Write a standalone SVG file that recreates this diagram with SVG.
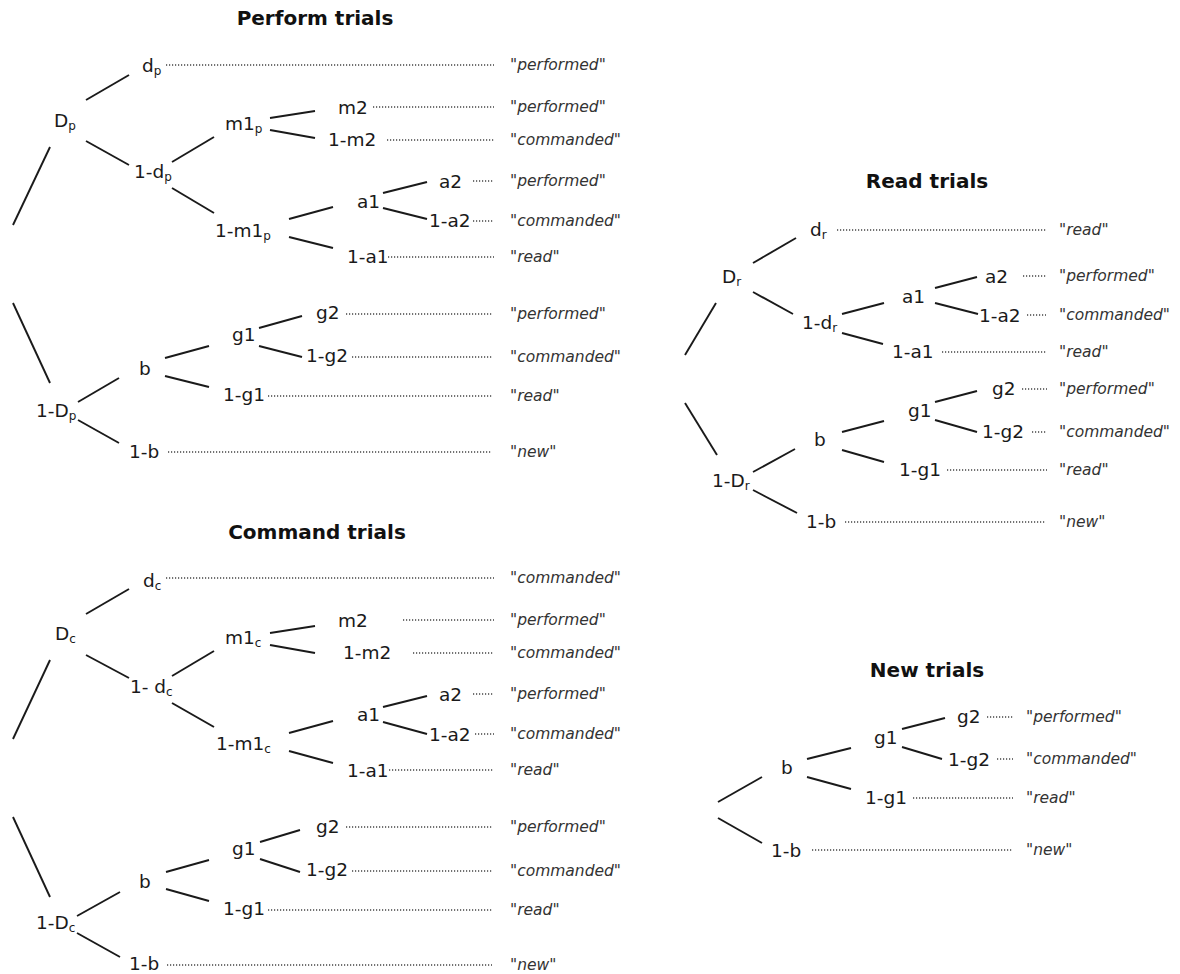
<svg xmlns="http://www.w3.org/2000/svg" width="1180" height="974" viewBox="0 0 1180 974">
<style>
.t{font-family:"DejaVu Sans","Liberation Sans",sans-serif;font-size:20px;font-weight:bold;fill:#111;text-anchor:middle}
.n{font-family:"DejaVu Sans","Liberation Sans",sans-serif;font-size:18.5px;fill:#1a1a1a}
.s{font-size:12px}
.l{font-family:"DejaVu Sans","Liberation Sans",sans-serif;font-size:15.5px;font-style:italic;fill:#333}
.e{stroke:#1a1a1a;stroke-width:1.9;fill:none;stroke-linecap:butt}
.d{stroke:#444;stroke-width:1.4;stroke-dasharray:1.2 1.8;fill:none}
</style>
<rect width="1180" height="974" fill="#fff"/>

<!-- ============ Perform trials ============ -->
<g id="perform">
<text class="t" x="315" y="25">Perform trials</text>
<g id="connectors-perform">
<line class="e" x1="13" y1="225" x2="50" y2="147"/>
<line class="e" x1="86" y1="100" x2="129" y2="75"/>
<line class="e" x1="86" y1="141" x2="129" y2="165"/>
<line class="e" x1="172" y1="162" x2="214" y2="137"/>
<line class="e" x1="172" y1="188" x2="214" y2="213"/>
<line class="e" x1="270" y1="118" x2="315" y2="111"/>
<line class="e" x1="270" y1="130" x2="315" y2="138"/>
<line class="e" x1="289" y1="219" x2="333" y2="207"/>
<line class="e" x1="289" y1="237" x2="333" y2="248"/>
<line class="e" x1="383" y1="193" x2="427" y2="182"/>
<line class="e" x1="383" y1="208" x2="427" y2="219"/>
<line class="e" x1="13" y1="303" x2="50" y2="383"/>
<line class="e" x1="78" y1="402" x2="119" y2="378"/>
<line class="e" x1="78" y1="420" x2="119" y2="443"/>
<line class="e" x1="165" y1="358" x2="209" y2="346"/>
<line class="e" x1="165" y1="376" x2="209" y2="387"/>
<line class="e" x1="259" y1="328" x2="302" y2="316"/>
<line class="e" x1="259" y1="346" x2="302" y2="357"/>
<line class="d" x1="166" y1="65" x2="494" y2="65"/>
<line class="d" x1="373" y1="107" x2="494" y2="107"/>
<line class="d" x1="387" y1="140" x2="494" y2="140"/>
<line class="d" x1="473" y1="181" x2="494" y2="181"/>
<line class="d" x1="473" y1="221" x2="494" y2="221"/>
<line class="d" x1="388" y1="257" x2="494" y2="257"/>
<line class="d" x1="346" y1="314" x2="492" y2="314"/>
<line class="d" x1="352" y1="357" x2="492" y2="357"/>
<line class="d" x1="268" y1="396" x2="492" y2="396"/>
<line class="d" x1="168" y1="452" x2="492" y2="452"/>
</g>
<g id="p-Dp"><text class="n" x="54" y="127">D<tspan class="s" dy="3">p</tspan></text></g>
<g id="p-dp"><text class="n" x="142" y="72">d<tspan class="s" dy="3">p</tspan></text></g>
<g id="p-1dp"><text class="n" x="134" y="178">1-d<tspan class="s" dy="3">p</tspan></text></g>
<g id="p-m1p"><text class="n" x="225" y="130">m1<tspan class="s" dy="3">p</tspan></text></g>
<g id="p-m2"><text class="n" x="338" y="114">m2</text></g>
<g id="p-1m2"><text class="n" x="328" y="146">1-m2</text></g>
<g id="p-1m1p"><text class="n" x="215" y="237">1-m1<tspan class="s" dy="3">p</tspan></text></g>
<g id="p-a1"><text class="n" x="357" y="208">a1</text></g>
<g id="p-a2"><text class="n" x="439" y="188">a2</text></g>
<g id="p-1a2"><text class="n" x="429" y="227">1-a2</text></g>
<g id="p-1a1"><text class="n" x="347" y="263">1-a1</text></g>
<g id="p-1Dp"><text class="n" x="36" y="417">1-D<tspan class="s" dy="3">p</tspan></text></g>
<g id="p-b"><text class="n" x="139" y="375">b</text></g>
<g id="p-g1"><text class="n" x="232" y="341">g1</text></g>
<g id="p-g2"><text class="n" x="316" y="319">g2</text></g>
<g id="p-1g2"><text class="n" x="306" y="362">1-g2</text></g>
<g id="p-1g1"><text class="n" x="223" y="401">1-g1</text></g>
<g id="p-1b"><text class="n" x="129" y="458">1-b</text></g>
<g id="p-labels">
<text class="l" x="510" y="70">"performed"</text>
<text class="l" x="510" y="112">"performed"</text>
<text class="l" x="510" y="145">"commanded"</text>
<text class="l" x="510" y="186">"performed"</text>
<text class="l" x="510" y="226">"commanded"</text>
<text class="l" x="510" y="262">"read"</text>
<text class="l" x="510" y="319">"performed"</text>
<text class="l" x="510" y="362">"commanded"</text>
<text class="l" x="510" y="401">"read"</text>
<text class="l" x="510" y="457">"new"</text>
</g>
</g>

<!-- ============ Command trials ============ -->
<g id="command" transform="translate(0,513)">
<text class="t" x="317" y="26">Command trials</text>
<g id="connectors-command">
<line class="e" x1="13" y1="226" x2="50" y2="147"/>
<line class="e" x1="86" y1="101" x2="129" y2="76"/>
<line class="e" x1="86" y1="142" x2="129" y2="165"/>
<line class="e" x1="172" y1="163" x2="214" y2="138"/>
<line class="e" x1="172" y1="190" x2="214" y2="214"/>
<line class="e" x1="270" y1="120" x2="315" y2="113"/>
<line class="e" x1="270" y1="132" x2="315" y2="140"/>
<line class="e" x1="289" y1="220" x2="333" y2="208"/>
<line class="e" x1="289" y1="238" x2="333" y2="250"/>
<line class="e" x1="383" y1="194" x2="427" y2="183"/>
<line class="e" x1="383" y1="209" x2="427" y2="221"/>
<line class="e" x1="13" y1="304" x2="50" y2="384"/>
<line class="e" x1="77" y1="403" x2="120" y2="379"/>
<line class="e" x1="77" y1="420" x2="120" y2="444"/>
<line class="e" x1="166" y1="359" x2="209" y2="347"/>
<line class="e" x1="166" y1="376" x2="209" y2="388"/>
<line class="e" x1="260" y1="329" x2="300" y2="317"/>
<line class="e" x1="260" y1="346" x2="300" y2="359"/>
<line class="d" x1="166" y1="65" x2="494" y2="65"/>
<line class="d" x1="403" y1="107" x2="494" y2="107"/>
<line class="d" x1="413" y1="140" x2="494" y2="140"/>
<line class="d" x1="473" y1="181" x2="494" y2="181"/>
<line class="d" x1="475" y1="221" x2="494" y2="221"/>
<line class="d" x1="389" y1="257" x2="494" y2="257"/>
<line class="d" x1="346" y1="314" x2="492" y2="314"/>
<line class="d" x1="352" y1="358" x2="492" y2="358"/>
<line class="d" x1="268" y1="397" x2="492" y2="397"/>
<line class="d" x1="167" y1="452" x2="492" y2="452"/>
</g>
<g id="c-Dc"><text class="n" x="55" y="127">D<tspan class="s" dy="3">c</tspan></text></g>
<g id="c-dc"><text class="n" x="143" y="74">d<tspan class="s" dy="3">c</tspan></text></g>
<g id="c-1dc"><text class="n" x="130" y="180">1- d<tspan class="s" dy="3">c</tspan></text></g>
<g id="c-m1c"><text class="n" x="225" y="131">m1<tspan class="s" dy="3">c</tspan></text></g>
<g id="c-m2"><text class="n" x="338" y="114">m2</text></g>
<g id="c-1m2"><text class="n" x="343" y="146">1-m2</text></g>
<g id="c-1m1c"><text class="n" x="216" y="237">1-m1<tspan class="s" dy="3">c</tspan></text></g>
<g id="c-a1"><text class="n" x="357" y="208">a1</text></g>
<g id="c-a2"><text class="n" x="439" y="188">a2</text></g>
<g id="c-1a2"><text class="n" x="429" y="228">1-a2</text></g>
<g id="c-1a1"><text class="n" x="347" y="264">1-a1</text></g>
<g id="c-1Dc"><text class="n" x="36" y="416">1-D<tspan class="s" dy="3">c</tspan></text></g>
<g id="c-b"><text class="n" x="139" y="375">b</text></g>
<g id="c-g1"><text class="n" x="232" y="342">g1</text></g>
<g id="c-g2"><text class="n" x="316" y="320">g2</text></g>
<g id="c-1g2"><text class="n" x="306" y="363">1-g2</text></g>
<g id="c-1g1"><text class="n" x="223" y="402">1-g1</text></g>
<g id="c-1b"><text class="n" x="129" y="457">1-b</text></g>
<g id="c-labels">
<text class="l" x="510" y="70">"commanded"</text>
<text class="l" x="510" y="112">"performed"</text>
<text class="l" x="510" y="145">"commanded"</text>
<text class="l" x="510" y="186">"performed"</text>
<text class="l" x="510" y="226">"commanded"</text>
<text class="l" x="510" y="262">"read"</text>
<text class="l" x="510" y="319">"performed"</text>
<text class="l" x="510" y="363">"commanded"</text>
<text class="l" x="510" y="402">"read"</text>
<text class="l" x="510" y="457">"new"</text>
</g>
</g>

<!-- ============ Read trials ============ -->
<g id="read">
<text class="t" x="927" y="188">Read trials</text>
<g id="connectors-read">
<line class="e" x1="753" y1="263" x2="796" y2="238"/>
<line class="e" x1="753" y1="292" x2="793" y2="314"/>
<line class="e" x1="716" y1="303" x2="685" y2="355"/>
<line class="e" x1="842" y1="314" x2="884" y2="303"/>
<line class="e" x1="842" y1="333" x2="883" y2="344"/>
<line class="e" x1="935" y1="288" x2="977" y2="277"/>
<line class="e" x1="935" y1="303" x2="978" y2="314"/>
<line class="e" x1="685" y1="403" x2="717" y2="455"/>
<line class="e" x1="753" y1="472" x2="795" y2="449"/>
<line class="e" x1="753" y1="490" x2="797" y2="513"/>
<line class="e" x1="842" y1="432" x2="884" y2="421"/>
<line class="e" x1="842" y1="450" x2="884" y2="462"/>
<line class="e" x1="935" y1="402" x2="977" y2="391"/>
<line class="e" x1="935" y1="420" x2="977" y2="432"/>
<line class="d" x1="837" y1="230" x2="1047" y2="230"/>
<line class="d" x1="1023" y1="276" x2="1047" y2="276"/>
<line class="d" x1="1027" y1="315" x2="1046" y2="315"/>
<line class="d" x1="942" y1="352" x2="1047" y2="352"/>
<line class="d" x1="1022" y1="389" x2="1047" y2="389"/>
<line class="d" x1="1032" y1="432" x2="1047" y2="432"/>
<line class="d" x1="947" y1="470" x2="1047" y2="470"/>
<line class="d" x1="845" y1="522" x2="1046" y2="522"/>
</g>
<g id="r-Dr"><text class="n" x="722" y="283">D<tspan class="s" dy="3">r</tspan></text></g>
<g id="r-dr"><text class="n" x="810" y="236">d<tspan class="s" dy="3">r</tspan></text></g>
<g id="r-1dr"><text class="n" x="802" y="329">1-d<tspan class="s" dy="3">r</tspan></text></g>
<g id="r-a1"><text class="n" x="902" y="303">a1</text></g>
<g id="r-a2"><text class="n" x="985" y="283">a2</text></g>
<g id="r-1a2"><text class="n" x="979" y="322">1-a2</text></g>
<g id="r-1a1"><text class="n" x="892" y="358">1-a1</text></g>
<g id="r-1Dr"><text class="n" x="712" y="487">1-D<tspan class="s" dy="3">r</tspan></text></g>
<g id="r-b"><text class="n" x="814" y="446">b</text></g>
<g id="r-g1"><text class="n" x="908" y="417">g1</text></g>
<g id="r-g2"><text class="n" x="992" y="395">g2</text></g>
<g id="r-1g2"><text class="n" x="982" y="438">1-g2</text></g>
<g id="r-1g1"><text class="n" x="899" y="476">1-g1</text></g>
<g id="r-1b"><text class="n" x="806" y="528">1-b</text></g>
<g id="r-labels">
<text class="l" x="1059" y="235">"read"</text>
<text class="l" x="1059" y="281">"performed"</text>
<text class="l" x="1059" y="320">"commanded"</text>
<text class="l" x="1059" y="357">"read"</text>
<text class="l" x="1059" y="394">"performed"</text>
<text class="l" x="1059" y="437">"commanded"</text>
<text class="l" x="1059" y="475">"read"</text>
<text class="l" x="1059" y="527">"new"</text>
</g>
</g>

<!-- ============ New trials ============ -->
<g id="new">
<text class="t" x="927" y="677">New trials</text>
<g id="connectors-new">
<line class="e" x1="718" y1="802" x2="762" y2="777"/>
<line class="e" x1="718" y1="818" x2="762" y2="843"/>
<line class="e" x1="807" y1="759" x2="851" y2="748"/>
<line class="e" x1="807" y1="777" x2="851" y2="789"/>
<line class="e" x1="902" y1="729" x2="945" y2="718"/>
<line class="e" x1="902" y1="747" x2="942" y2="759"/>
<line class="d" x1="987" y1="717" x2="1013" y2="717"/>
<line class="d" x1="997" y1="759" x2="1013" y2="759"/>
<line class="d" x1="913" y1="798" x2="1013" y2="798"/>
<line class="d" x1="812" y1="850" x2="1012" y2="850"/>
</g>
<g id="n-b"><text class="n" x="781" y="774">b</text></g>
<g id="n-g1"><text class="n" x="874" y="744">g1</text></g>
<g id="n-g2"><text class="n" x="957" y="723">g2</text></g>
<g id="n-1g2"><text class="n" x="948" y="766">1-g2</text></g>
<g id="n-1g1"><text class="n" x="865" y="804">1-g1</text></g>
<g id="n-1b"><text class="n" x="771" y="857">1-b</text></g>
<g id="n-labels">
<text class="l" x="1026" y="722">"performed"</text>
<text class="l" x="1026" y="764">"commanded"</text>
<text class="l" x="1026" y="803">"read"</text>
<text class="l" x="1026" y="855">"new"</text>
</g>
</g>
</svg>
